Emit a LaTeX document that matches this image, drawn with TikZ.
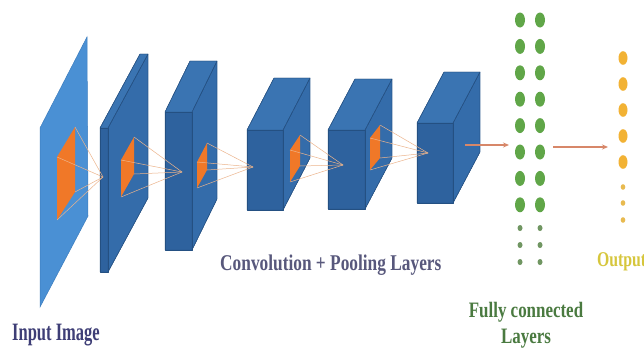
\documentclass[tikz,border=0pt]{standalone}
\usepackage{fontspec}
\usepackage{graphicx}
\setmainfont{Liberation Serif}
\usetikzlibrary{arrows.meta}
\definecolor{planeblue}{RGB}{74,144,212}
\definecolor{planeedge}{RGB}{60,125,190}
\definecolor{frontblue}{RGB}{46,98,158}
\definecolor{sideblue}{RGB}{52,108,170}
\definecolor{topblue}{RGB}{58,116,178}
\definecolor{edgeblue}{RGB}{36,80,130}
\definecolor{patch}{RGB}{240,120,40}
\definecolor{rayc}{RGB}{236,180,140}
\definecolor{arrowc}{RGB}{215,135,105}
\definecolor{fcgreen}{RGB}{96,166,72}
\definecolor{fcsmall}{RGB}{112,150,98}
\definecolor{outorange}{RGB}{242,178,52}
\definecolor{outsmall}{RGB}{232,186,80}
\definecolor{inputtxt}{RGB}{62,62,118}
\definecolor{convtxt}{RGB}{88,88,124}
\definecolor{fctxt}{RGB}{74,122,64}
\definecolor{outtxt}{RGB}{214,198,60}
\tikzset{
  frontface/.style={fill=frontblue,draw=edgeblue,line width=0.4pt,line join=round},
  sideface/.style={fill=sideblue,draw=edgeblue,line width=0.4pt,line join=round},
  topface/.style={fill=topblue,draw=edgeblue,line width=0.4pt,line join=round},
  patchface/.style={fill=patch,draw=none},
  ray/.style={draw=rayc,line width=0.5pt},
  flowarrow/.style={draw=arrowc,line width=1.4pt,-{Stealth[length=6pt,width=5pt]}},
  bigfc/.style={fill=fcgreen,draw=none},
  smallfc/.style={fill=fcsmall,draw=none},
  bigout/.style={fill=outorange,draw=none},
  smallout/.style={fill=outsmall,draw=none},
  lbl/.style={inner sep=0pt,anchor=base west},
  lblc/.style={inner sep=0pt,anchor=base},
}
% \cnnlayer{name}{x}{y}{w}{h}{dx}{dy}
\newcommand\cnnlayer[7]{%
  \fill[sideface] (#2+#4,#3) -- ++(#6,#7) -- ++(0,#5) -- (#2+#4,#3+#5) -- cycle;
  \fill[topface] (#2,#3) -- ++(#6,#7) -- ++(#4,0) -- (#2+#4,#3) -- cycle;
  \fill[frontface] (#2,#3) rectangle (#2+#4,#3+#5);
  \draw[edgeblue,line width=0.4pt] (#2,#3) -- ++(#6,#7) -- ++(#4,0) -- ++(0,#5) -- (#2+#4,#3+#5) -- (#2,#3+#5) -- cycle;
  \draw[edgeblue,line width=0.4pt] (#2+#4,#3) -- ++(#6,#7) (#2+#4,#3) -- (#2+#4,#3+#5);
  \coordinate (#1-front) at (#2+0.5*#4,#3+0.5*#5);
  \coordinate (#1-side) at (#2+#4+0.5*#6,#3+0.5*#5+0.5*#7);
}
% \cnnpatch{name}{xl}{ylt}{ylb}{xr}{yrt}{yrb}
\newcommand\cnnpatch[7]{%
  \fill[patchface] (#2,#3) -- (#5,#6) -- (#5,#7) -- (#2,#4) -- cycle;
  \coordinate (#1-a) at (#2,#3);
  \coordinate (#1-b) at (#5,#6);
  \coordinate (#1-c) at (#5,#7);
  \coordinate (#1-d) at (#2,#4);
}
\begin{document}
\begin{tikzpicture}[x=1pt,y=-1pt]
\useasboundingbox (0,0) rectangle (644,351);
\clip (0,0) rectangle (644,351);
\fill[white] (0,0) rectangle (644,351);
% input plane
\fill[fill=planeblue,draw=planeedge,line width=0.5pt] (40,128) -- (87,37) -- (88,216) -- (40,307) -- cycle;
\cnnpatch{p1}{57}{157}{220}{75}{127}{192}
% conv / pooling layers
\cnnlayer{l2}{100}{128}{8}{144}{40}{-74}
\cnnpatch{p2}{121}{160}{197}{134}{137}{174}
\cnnlayer{l3}{165}{112}{27}{138}{25}{-51}
\cnnpatch{p3}{197}{162}{188}{207}{143}{170}
\cnnlayer{l4}{247}{130}{36}{80}{27}{-52}
\cnnpatch{p4}{290}{150}{182}{300}{135}{166}
\cnnlayer{l5}{328}{130}{37}{79}{27}{-51}
\cnnpatch{p5}{370}{138}{170}{380}{125}{158}
\cnnlayer{l6}{417}{123}{36}{80}{27}{-51}
% convergence points
\coordinate (t2) at (103,177);
\coordinate (t3) at (182,172);
\coordinate (t4) at (253,167);
\coordinate (t5) at (343,165);
\coordinate (t6) at (428,153);
\foreach \p/\t in {p1/t2,p2/t3,p3/t4,p4/t5,p5/t6}{
  \draw[ray] (\p-a) -- (\t);
  \draw[ray] (\p-b) -- (\t);
  \draw[ray] (\p-c) -- (\t);
  \draw[ray] (\p-d) -- (\t);
}
% fully connected layers
\foreach \cx/\cn in {520/a,540/b}{
  \foreach \i in {0,...,7}{
    \fill[bigfc] (\cx,20+26.4*\i) ellipse [x radius=5,y radius=7.5];
  }
  \foreach \yy in {228,245,262}{
    \fill[smallfc] (\cx,\yy) ellipse [x radius=2.5,y radius=3];
  }
}
\coordinate (fcin) at (509,145);
\coordinate (fcout) at (553,147);
% output layer
\foreach \i in {0,...,4}{
  \fill[bigout] (623,58+26*\i) ellipse [x radius=4.5,y radius=6.8];
}
\foreach \yy in {187,203,220}{
  \fill[smallout] (623,\yy) ellipse [x radius=2.3,y radius=2.8];
}
\coordinate (outin) at (608,147);
\coordinate (l6out) at (465,145);
% arrows
\draw[flowarrow] (l6out) -- (fcin);
\draw[flowarrow] (fcout) -- (outin);
% labels
\node[lbl,text=inputtxt] (inlbl) at (12,340) {\scalebox{0.66}[1]{\fontsize{25}{27}\selectfont\bfseries Input Image}};
\node[lbl,text=convtxt] (convlbl) at (220,270) {\scalebox{0.77}[1]{\fontsize{22.5}{24}\selectfont\bfseries Convolution + Pooling Layers}};
\node[lblc,text=fctxt] (fclbl1) at (526,317) {\scalebox{0.77}[1]{\fontsize{22}{24}\selectfont\bfseries Fully connected}};
\node[lblc,text=fctxt] (fclbl2) at (526,343) {\scalebox{0.77}[1]{\fontsize{22}{24}\selectfont\bfseries Layers}};
\node[lbl,text=outtxt] (outlbl) at (597,266) {\scalebox{0.75}[1]{\fontsize{21}{23}\selectfont\bfseries Output}};
\end{tikzpicture}
\end{document}
